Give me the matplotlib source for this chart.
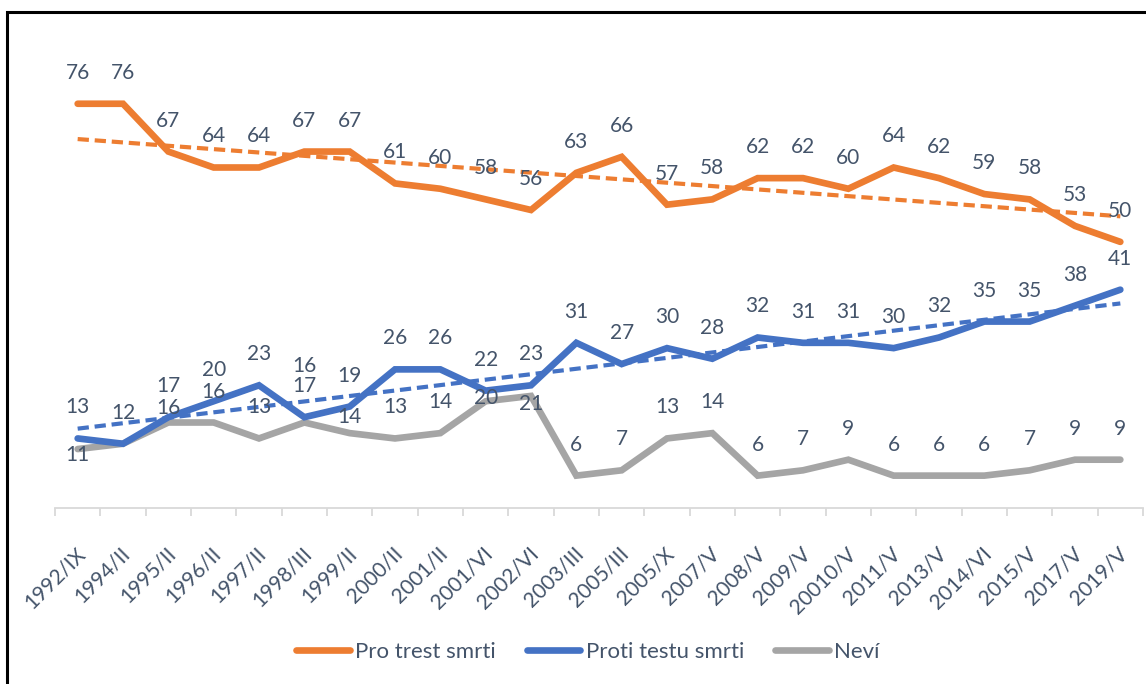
import matplotlib.pyplot as plt
import matplotlib.patches as patches
import matplotlib.transforms as mtransforms
import numpy as np

plt.rcParams['font.family'] = ['Lato', 'DejaVu Sans']

labels = ['1992/IX', '1994/II', '1995/II', '1996/II', '1997/II', '1998/III', '1999/II',
          '2000/II', '2001/II', '2001/VI', '2002/VI', '2003/III', '2005/III', '2005/X',
          '2007/V', '2008/V', '2009/V', '20010/V', '2011/V', '2013/V', '2014/VI',
          '2015/V', '2017/V', '2019/V']
pro = [76, 76, 67, 64, 64, 67, 67, 61, 60, 58, 56, 63, 66, 57, 58, 62, 62, 60, 64, 62, 59, 58, 53, 50]
proti = [13, 12, 17, 20, 23, 17, 19, 26, 26, 22, 23, 31, 27, 30, 28, 32, 31, 31, 30, 32, 35, 35, 38, 41]
nevi = [11, 12, 16, 16, 13, 16, 14, 13, 14, 20, 21, 6, 7, 13, 14, 6, 7, 9, 6, 6, 6, 7, 9, 9]

C_PRO = '#ED7D31'
C_PROTI = '#4472C4'
C_NEVI = '#A5A5A5'
TXT = '#44546A'

# label offsets above the point (pixels), excel-style moved labels
off_default = 31
off_nevi = {0: -6, 2: 15, 5: 57, 6: 16, 9: 3, 10: -8}
hidden_nevi = [1]  # sits under the blue "12"

fig = plt.figure(figsize=(11.46, 6.84), dpi=100)
ax = fig.add_axes([55/1146, (684-507.5)/684, 1088/1146, 425/684])

x = np.arange(len(labels))
series = [(pro, C_PRO, 'Pro trest smrti'),
          (proti, C_PROTI, 'Proti testu smrti'),
          (nevi, C_NEVI, 'Neví')]

for vals, col, name in series[::-1]:
    ax.plot(x, vals, color=col, lw=4.8, solid_capstyle='round', solid_joinstyle='miter', label=name)

# linear trend lines for first two series
for vals, col in [(pro, C_PRO), (proti, C_PROTI)]:
    k, q = np.polyfit(x + 1, vals, 1)
    ax.plot(x, k*(x + 1) + q, color=col, lw=3.0, linestyle=(0, (2.7, 1.4)))

for vals, col, name in series:
    for i, v in enumerate(vals):
        off = off_default
        if name == 'Neví':
            if i in hidden_nevi:
                continue
            off = off_nevi.get(i, off_default)
        ax.annotate(str(v), (i, v), xytext=(0, off), textcoords='offset pixels',
                    ha='center', va='center', fontsize=15, color=TXT, annotation_clip=False)

ax.set_xlim(-0.5, len(labels) - 0.5)
ax.set_ylim(0, 80)
for s in ['top', 'right', 'left']:
    ax.spines[s].set_visible(False)
ax.spines['bottom'].set_color('#D9D9D9')
ax.spines['bottom'].set_linewidth(1.3)
ax.set_yticks([])
ax.set_xticks(x)
ax.set_xticklabels(labels, rotation=45, ha='right', rotation_mode='anchor', fontsize=15, color=TXT)
ax.tick_params(axis='x', which='major', length=0, pad=26)
shift = mtransforms.ScaledTranslation(-3/100, 0, fig.dpi_scale_trans)
for t in ax.get_xticklabels():
    t.set_transform(t.get_transform() + shift)
ax.set_xticks(np.arange(-0.5, len(labels)), minor=True)
ax.tick_params(axis='x', which='minor', length=6, width=1.3, color='#D9D9D9')

handles, names = ax.get_legend_handles_labels()
fig.legend(handles[::-1], names[::-1], loc='center', bbox_to_anchor=(588/1146, 1 - 652/684),
           ncol=3, frameon=False, fontsize=16, labelcolor=TXT, handlelength=2.4,
           handletextpad=0.25, columnspacing=1.4)

# outer border
fig.patches.append(patches.Rectangle((7/1146, -0.1), 1.2, 0.1 + (684 - 12)/684, transform=fig.transFigure,
                                     fill=False, edgecolor='black', lw=2.2, clip_on=False))

fig.savefig('out.png', dpi=100)
